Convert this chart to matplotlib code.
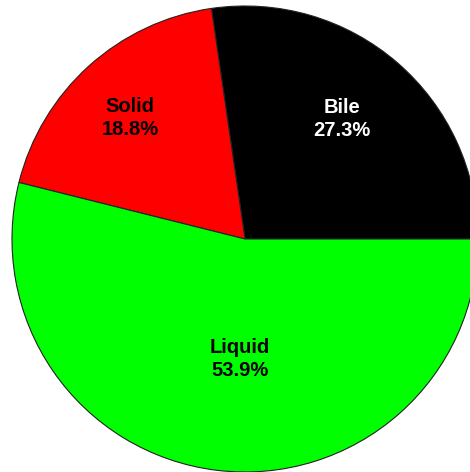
import numpy as np
import matplotlib.pyplot as plt

plt.rcParams['font.family'] = ['Liberation Sans', 'DejaVu Sans']

labels = ['Bile', 'Solid', 'Liquid']
values = [27.3, 18.8, 53.9]
colors = ['#000000', '#ff0000', '#00ff00']
text_colors = ['white', 'black', 'black']

# label placement (fraction of radius, angle nudge in degrees)
label_r = [0.662, 0.716, 0.515]
label_dtheta = [1.9, 1.4, 4.6]

fig = plt.figure(figsize=(4.7, 4.72), dpi=100)
ax = fig.add_axes([12 / 470, 0, 466 / 470, 466 / 472])

wedges, _ = ax.pie(values, colors=colors, startangle=0, counterclock=True,
                   radius=1, wedgeprops=dict(edgecolor='#222222', linewidth=0.8))

for w, lab, v, tc, r, dt in zip(wedges, labels, values, text_colors, label_r, label_dtheta):
    theta = np.deg2rad((w.theta1 + w.theta2) / 2 + dt)
    ax.text(r * np.cos(theta), r * np.sin(theta), '%s\n%.1f%%' % (lab, v),
            ha='center', va='center', fontsize=14.5, fontweight='bold',
            color=tc, linespacing=1.3)

ax.set_xlim(-1, 1)
ax.set_ylim(-1, 1)
ax.set_aspect('equal')
ax.axis('off')

fig.savefig('out.png', dpi=100)
